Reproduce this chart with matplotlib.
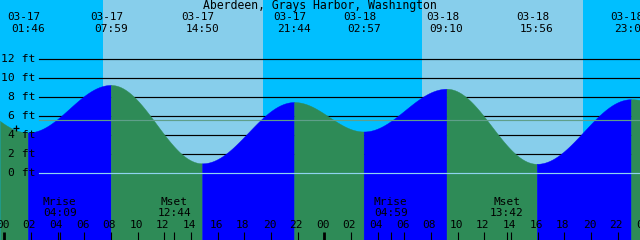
import numpy as np
import matplotlib
matplotlib.use("Agg")
import matplotlib.pyplot as plt
from matplotlib.transforms import blended_transform_factory

# ---------------- data ----------------
title = "Aberdeen, Grays Harbor, Washington"
tide_dates = ["03-17", "03-17", "03-17", "03-17", "03-18", "03-18", "03-18", "03-18"]
tide_times = ["01:46", "07:59", "14:50", "21:44", "02:57", "09:10", "15:56", "23:00"]
tide_heights = [4.3, 9.3, 1.05, 7.5, 4.4, 8.9, 1.0, 7.8]
# extremes just outside the visible window (estimated, for the curve ends)
prev_extreme = ("03-16", "19:40", 8.9)
next_extreme = ("03-19", "05:30", 4.5)

moon_dates = ["03-17", "03-17", "03-18", "03-18"]
moon_events = ["Mrise", "Mset", "Mrise", "Mset"]
moon_times = ["04:09", "12:44", "04:59", "13:42"]

sun_dates = ["03-17", "03-17", "03-18", "03-18"]
sun_events = ["rise", "set", "rise", "set"]
sun_times = ["07:26", "19:26", "07:21", "19:26"]

ytick_values = [12, 10, 8, 6, 4, 2, 0]
mean_level = 5.58
now_mark = ("03-17", "00:52", 4.77)

hour_labels = ["00", "02", "04", "06", "08", "10", "12", "14", "16", "18", "20", "22"]

# ---------------- helpers ----------------
day_index = {"03-16": -1, "03-17": 0, "03-18": 1, "03-19": 2}


def hrs(date, hhmm):
    h, m = hhmm.split(":")
    return 24 * day_index[date] + int(h) + int(m) / 60.0


W, H = 640, 240
X0 = 4.33          # pixel of 03-17 00:00
PX_PER_H = 13.333
Y0 = 173.3         # pixel of 0 ft
PX_PER_FT = 9.5

xlim = (-X0 / PX_PER_H, (W - X0) / PX_PER_H)
ylim = ((Y0 - H) / PX_PER_FT, Y0 / PX_PER_FT)


def yfrac(ypix):
    return 1 - ypix / H


def dh(px):
    return px / PX_PER_H


BG_DAY = "#87CEEB"
BG_NIGHT = "#00BFFF"
RISE = "#0000FF"
FALL = "#2E8B57"
FONT = "DejaVu Sans Mono"

fig = plt.figure(figsize=(6.4, 2.4), dpi=100)
ax = fig.add_axes([0, 0, 1, 1])
ax.set_xlim(*xlim)
ax.set_ylim(*ylim)
ax.axis("off")
tx = blended_transform_factory(ax.transData, ax.transAxes)
ty = blended_transform_factory(ax.transAxes, ax.transData)

# background day / night
ax.axvspan(xlim[0], xlim[1], color=BG_NIGHT, zorder=0, lw=0)
sun_h = [hrs(d, t) for d, t in zip(sun_dates, sun_times)]
for i in range(0, len(sun_h), 2):
    ax.axvspan(sun_h[i], sun_h[i + 1], color=BG_DAY, zorder=0.5, lw=0)

# gridlines (behind tide)
gx0 = 39 / W
for v in ytick_values[:-1]:
    ax.axhline(v, xmin=gx0, xmax=1, color="black", lw=0.85, zorder=1)

# tide curve: half-cosine between successive extremes
ext_t = [hrs(prev_extreme[0], prev_extreme[1])] + \
        [hrs(d, t) for d, t in zip(tide_dates, tide_times)] + \
        [hrs(next_extreme[0], next_extreme[1])]
ext_h = [prev_extreme[2]] + tide_heights + [next_extreme[2]]

for i in range(len(ext_t) - 1):
    t0, t1 = ext_t[i], ext_t[i + 1]
    h0, h1 = ext_h[i], ext_h[i + 1]
    a, b = max(t0, xlim[0]), min(t1, xlim[1])
    if a >= b:
        continue
    tt = np.linspace(a, b, 300)
    f = (tt - t0) / (t1 - t0)
    hh = h0 + (h1 - h0) * (1 - np.cos(np.pi * f)) / 2
    col = RISE if h1 > h0 else FALL
    ax.fill_between(tt, ylim[0], hh, color=col, lw=0.3, ec=col, zorder=2)

# datum and mean lines on top of fill
ax.axhline(0, xmin=gx0, xmax=1, color="#8fd3f0", lw=0.85, zorder=3)
ax.axhline(mean_level, xmin=gx0, xmax=1, color="#5f9f8a", lw=0.85, zorder=3)

# y labels
for v in ytick_values:
    ax.text(35.8 / W, v, f"{v} ft", transform=ty, ha="right", va="center",
            fontsize=8.2, family=FONT, zorder=5)

# title
ax.text(0.5, yfrac(6), title, transform=ax.transAxes, ha="center", va="center",
        fontsize=8.3, family=FONT, zorder=5)

# top tide labels
for d, t in zip(tide_dates, tide_times):
    h = hrs(d, t)
    ax.text(h - dh(4), yfrac(17.5), d, transform=tx, ha="center", va="center",
            fontsize=7.9, family=FONT, zorder=5)
    ax.text(h, yfrac(29.5), t, transform=tx, ha="center", va="center",
            fontsize=8.0, family=FONT, zorder=5)

# moon labels
for d, e, t in zip(moon_dates, moon_events, moon_times):
    h = hrs(d, t)
    ax.text(h, yfrac(202), e, transform=tx, ha="center", va="center",
            fontsize=8.0, family=FONT, zorder=5)
    ax.text(h, yfrac(213), t, transform=tx, ha="center", va="center",
            fontsize=8.0, family=FONT, zorder=5)
    ax.plot([h, h], [0, yfrac(232)], transform=tx, color="black", lw=0.8,
            zorder=5, solid_capstyle="butt")

# hour ticks and labels
for day in (0, 1):
    for lab in hour_labels:
        h = 24 * day + int(lab)
        lw = 2.0 if lab == "00" else 0.8
        ax.plot([h, h], [0, yfrac(232)], transform=tx, color="black", lw=lw,
                zorder=5, solid_capstyle="butt")
        ax.text(h - dh(1.5), yfrac(225.3), lab, transform=tx, ha="center",
                va="center", fontsize=8.0, family=FONT, zorder=5)
ax.text(48 - dh(1.5), yfrac(225.3), "00", transform=tx, ha="center",
        va="center", fontsize=8.0, family=FONT, zorder=5)

# now marker
ax.plot([hrs(now_mark[0], now_mark[1])], [now_mark[2]], marker="+", color="black",
        ms=5, mew=0.9, zorder=6)

fig.savefig("out.png", dpi=100)
